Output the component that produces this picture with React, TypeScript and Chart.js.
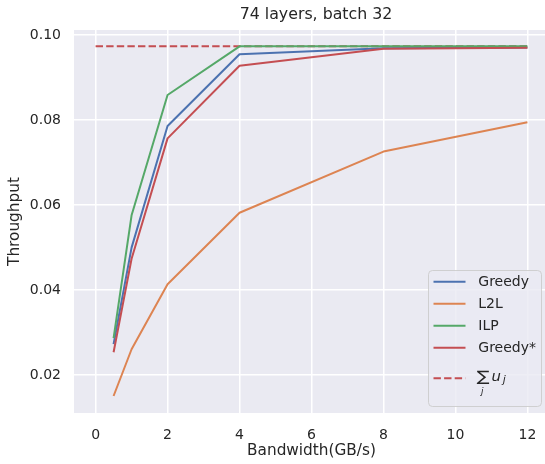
import { useEffect, useRef } from 'react';
import { Chart, registerables } from 'chart.js';

Chart.register(...registerables);

// ---- data ----
const bandwidth = [0.5, 1, 2, 4, 8, 12];
const greedy = [0.0273, 0.05, 0.0786, 0.0955, 0.0969, 0.0971];
const l2l = [0.0151, 0.0261, 0.0414, 0.0582, 0.0726, 0.0795];
const ilp = [0.0287, 0.0576, 0.0859, 0.09735, 0.0974, 0.0974];
const greedyStar = [0.0254, 0.0474, 0.0757, 0.0928, 0.0968, 0.097];
const sumX = [0, 12];
const sumValue = 0.0974;
const xTicks = [0, 2, 4, 6, 8, 10, 12];
const yTicks = [0.02, 0.04, 0.06, 0.08, 0.1];
const seriesLabels = ['Greedy', 'L2L', 'ILP', 'Greedy*', 'SUM'];
const titleText = '74 layers, batch 32';
const xLabel = 'Bandwidth(GB/s)';
const yLabel = 'Throughput';

const FAMILY = "'DejaVu Sans', sans-serif";
const TEXT = '#262626';
const COLORS = ['#4C72B0', '#DD8452', '#55A868', '#C44E52', '#C44E52'];

const toPts = (xs: number[], ys: number[]) => xs.map((x, i) => ({ x, y: ys[i] }));

const bgPlugin = {
  id: 'axesBg',
  beforeDraw(chart: any) {
    const { ctx, chartArea } = chart;
    ctx.save();
    ctx.fillStyle = '#EAEAF2';
    ctx.fillRect(chartArea.left, chartArea.top, chartArea.right - chartArea.left, chartArea.bottom - chartArea.top);
    ctx.restore();
  },
};

const titlePlugin = {
  id: 'axesTitle',
  afterDraw(chart: any) {
    const { ctx, chartArea } = chart;
    ctx.save();
    ctx.font = `15.8px ${FAMILY}`;
    ctx.fillStyle = TEXT;
    ctx.textAlign = 'center';
    ctx.textBaseline = 'alphabetic';
    ctx.fillText(titleText, (chartArea.left + chartArea.right) / 2 + 4.5, 19.2);
    ctx.restore();
  },
};

function drawFit(ctx: CanvasRenderingContext2D, text: string, style: string, family: string, left: number, top: number, height: number, width?: number) {
  ctx.font = `${style} 20px ${family}`;
  const m = ctx.measureText(text);
  const h = m.actualBoundingBoxAscent + m.actualBoundingBoxDescent;
  const size = (20 * height) / (h || 1);
  ctx.font = `${style} ${size}px ${family}`;
  const m2 = ctx.measureText(text);
  const inkW = m2.actualBoundingBoxLeft + m2.actualBoundingBoxRight;
  const sx = width ? width / (inkW || 1) : 1;
  ctx.save();
  ctx.textAlign = 'left';
  ctx.textBaseline = 'alphabetic';
  ctx.translate(left, top + m2.actualBoundingBoxAscent);
  ctx.scale(sx, 1);
  ctx.fillText(text, m2.actualBoundingBoxLeft, 0);
  ctx.restore();
}

const legendPlugin = {
  id: 'boxLegend',
  afterDatasetsDraw(chart: any) {
    const { ctx, chartArea } = chart;
    const w = 113;
    const h = 136;
    const x0 = chartArea.right - 8 - w;
    const y0 = chartArea.bottom - 7 - h;
    ctx.save();
    ctx.beginPath();
    ctx.roundRect(x0 + 0.5, y0 + 0.5, w, h, 4);
    ctx.fillStyle = 'rgba(234,234,242,0.8)';
    ctx.fill();
    ctx.strokeStyle = 'rgba(204,204,204,0.9)';
    ctx.lineWidth = 1;
    ctx.stroke();
    const rows = [11.7, 33.7, 55.7, 77.7, 108.3];
    chart.data.datasets.forEach((ds: any, i: number) => {
      const y = y0 + rows[i];
      ctx.beginPath();
      ctx.setLineDash(ds.borderDash || []);
      ctx.strokeStyle = ds.borderColor;
      ctx.lineWidth = 2;
      ctx.moveTo(x0 + 5.5, y);
      ctx.lineTo(x0 + 37.5, y);
      ctx.stroke();
      ctx.setLineDash([]);
      ctx.fillStyle = TEXT;
      if (ds.label === 'SUM') {
        const dv = "'DejaVu Sans'";
        drawFit(ctx, '\u2211', '', dv, x0 + 48.7, y0 + 103.3, 13.4, 13.5);
        drawFit(ctx, 'j', 'italic', dv, x0 + 52, y0 + 118.8, 8.4);
        drawFit(ctx, 'u', 'italic', dv, x0 + 63.6, y0 + 106.7, 8.2);
        drawFit(ctx, 'j', 'italic', dv, x0 + 72.8, y0 + 107.8, 10.2);
      } else {
        ctx.font = `14px ${FAMILY}`;
        ctx.textAlign = 'left';
        ctx.textBaseline = 'middle';
        ctx.fillText(ds.label, x0 + 50.3, y + 0.5);
      }
    });
    ctx.restore();
  },
};

export default function App() {
  const ref = useRef<HTMLCanvasElement | null>(null);

  useEffect(() => {
    if (!ref.current) return;
    const series = [greedy, l2l, ilp, greedyStar];
    const datasets: any[] = series.map((s, i) => ({
      label: seriesLabels[i],
      data: toPts(bandwidth, s),
      borderColor: COLORS[i],
      backgroundColor: COLORS[i],
      borderWidth: 2,
      pointRadius: 0,
      tension: 0,
      borderJoinStyle: 'round',
      order: 4 - i,
    }));
    datasets.push({
      label: seriesLabels[4],
      data: toPts(sumX, sumX.map(() => sumValue)),
      borderColor: COLORS[4],
      backgroundColor: COLORS[4],
      borderWidth: 2,
      borderDash: [7.4, 3.2],
      pointRadius: 0,
      tension: 0,
      order: 10,
    });

    const tickFont = { family: FAMILY, size: 14 };
    const labelFont = { family: FAMILY, size: 15.3 };

    const chart = new Chart(ref.current, {
      type: 'line',
      data: { datasets },
      plugins: [bgPlugin, legendPlugin, titlePlugin],
      options: {
        animation: false,
        responsive: false,
        layout: { padding: { left: 0, right: 1, top: 30, bottom: 0 } },
        plugins: {
          legend: { display: false },
          tooltip: { enabled: false },
          title: { display: false },
        },
        scales: {
          x: {
            type: 'linear',
            min: -0.6,
            max: 12.6,
            border: { display: false },
            grid: { color: '#FFFFFF', lineWidth: 1.5, drawTicks: false },
            ticks: { padding: 13.5, color: TEXT, font: tickFont, callback: (v: any) => String(v) },
            afterBuildTicks: (s: any) => {
              s.ticks = xTicks.map((v) => ({ value: v }));
            },
            afterFit: (s: any) => {
              s.height = 51;
              s.paddingLeft = 0;
              s.paddingRight = 0;
            },
            title: { display: true, text: xLabel, color: TEXT, font: labelFont, padding: { top: 0, bottom: 4 } },
          },
          y: {
            type: 'linear',
            min: 0.0111,
            max: 0.1012,
            border: { display: false },
            grid: { color: '#FFFFFF', lineWidth: 1.5, drawTicks: false },
            ticks: { padding: 13, color: TEXT, font: tickFont, callback: (v: any) => Number(v).toFixed(2) },
            afterBuildTicks: (s: any) => {
              s.ticks = yTicks.map((v) => ({ value: v }));
            },
            afterFit: (s: any) => {
              s.width = 74;
              s.paddingTop = 0;
              s.paddingBottom = 0;
            },
            title: { display: true, text: yLabel, color: TEXT, font: labelFont, padding: { top: 5.4, bottom: 0 } },
          },
        },
      } as any,
    });
    return () => chart.destroy();
  }, []);

  return (
    <div style={{ position: 'absolute', left: 0, top: 0, width: 545, height: 464, overflow: 'hidden', background: '#fff' }}>
      <canvas ref={ref} width={550} height={464} style={{ display: 'block' }} />
    </div>
  );
}
